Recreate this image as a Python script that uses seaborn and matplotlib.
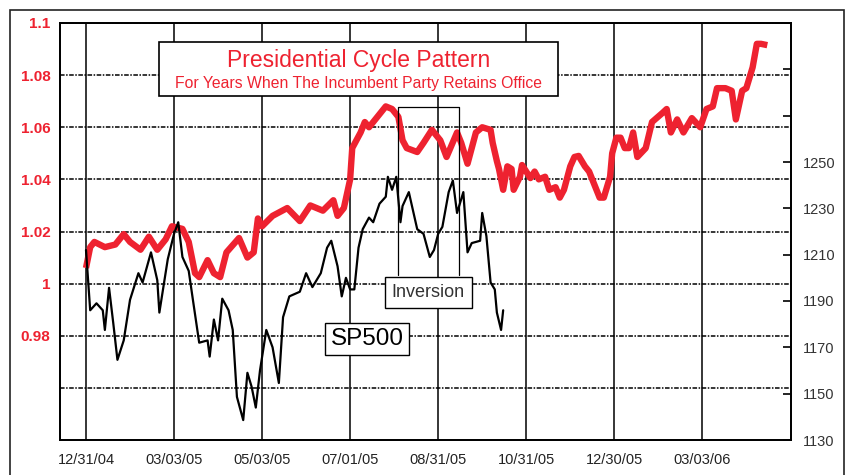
import numpy as np
import pandas as pd
import seaborn as sns
import matplotlib
matplotlib.use('Agg')
import matplotlib.pyplot as plt
from matplotlib.patches import Rectangle

# trading days since 12/31/04
red_days = [0, 2, 4, 9, 14, 18, 21, 26, 30, 34,
            38, 41, 46, 49, 52, 54, 58, 61, 64, 67,
            73, 77, 80, 82, 84, 89, 96, 102, 107, 113,
            118, 120, 123, 126, 127, 131, 133, 135, 139, 143,
            146, 149, 151, 153, 158, 161, 165, 169, 172, 177,
            179, 182, 186, 189, 193, 194, 196, 197, 199, 201,
            203, 204, 207, 208, 210, 212, 214, 216, 219, 221,
            224, 226, 228, 231, 233, 235, 238, 240, 243, 245,
            247, 250, 251, 253, 255, 257, 259, 261, 263, 267,
            270, 275, 277, 279, 282, 285, 289, 293, 296, 299,
            301, 305, 308, 310, 313, 315, 318, 320, 322, 325]
cycle_pattern = [1.006, 1.014, 1.016, 1.014, 1.015, 1.019, 1.016, 1.013, 1.018, 1.013,
                 1.017, 1.022, 1.021, 1.016, 1.004, 1.0025, 1.009, 1.004, 1.0025, 1.012,
                 1.0175, 1.010, 1.012, 1.025, 1.022, 1.026, 1.029, 1.024, 1.030, 1.028,
                 1.032, 1.026, 1.029, 1.040, 1.052, 1.058, 1.062, 1.060, 1.064, 1.068,
                 1.067, 1.064, 1.055, 1.052, 1.0505, 1.054, 1.059, 1.055, 1.0486, 1.058,
                 1.054, 1.046, 1.058, 1.060, 1.059, 1.054, 1.047, 1.044, 1.036, 1.045,
                 1.044, 1.036, 1.041, 1.0455, 1.043, 1.0405, 1.043, 1.040, 1.041, 1.036,
                 1.037, 1.033, 1.036, 1.045, 1.0486, 1.049, 1.045, 1.043, 1.037, 1.033,
                 1.033, 1.041, 1.050, 1.056, 1.056, 1.052, 1.052, 1.058, 1.0486, 1.052,
                 1.062, 1.0655, 1.067, 1.058, 1.063, 1.058, 1.0635, 1.060, 1.067, 1.068,
                 1.075, 1.075, 1.074, 1.063, 1.074, 1.075, 1.083, 1.092, 1.092, 1.0915]

sp_days = [0, 2, 5, 8, 9, 11, 13, 15, 18, 21,
           25, 27, 31, 34, 35, 39, 42, 44, 46, 49,
           51, 54, 58, 59, 61, 63, 65, 68, 70, 72,
           75, 77, 79, 81, 83, 86, 89, 92, 94, 97,
           102, 105, 108, 112, 115, 117, 120, 122, 124, 126,
           128, 130, 132, 135, 137, 140, 143, 144, 146, 148,
           150, 151, 154, 158, 161, 164, 166, 168, 170, 173,
           175, 177, 180, 182, 184, 188, 189, 191, 193, 195,
           196, 198, 199]
sp500 = [1212, 1186, 1189, 1186, 1177.5, 1195.7, 1180.5, 1164.6, 1173, 1190.5,
         1202, 1198, 1211, 1199, 1185, 1208, 1219, 1224, 1209, 1203,
         1190.5, 1172, 1173, 1166, 1182, 1173, 1191, 1186, 1177.5, 1148.6,
         1138.6, 1159, 1153, 1144, 1160, 1177.5, 1170, 1154.6, 1183, 1192,
         1194, 1202, 1196, 1202, 1213, 1216, 1205, 1192, 1200, 1195,
         1195, 1213, 1221, 1226, 1224, 1232, 1235, 1243.6, 1238, 1243.6,
         1224, 1231, 1237, 1221, 1219, 1209, 1212, 1219, 1222, 1237,
         1242, 1228, 1237, 1211, 1215, 1216, 1228, 1218, 1198, 1195,
         1185, 1177.5, 1186]

tick_days = [0, 42, 84, 126, 168, 210, 252, 294]
tick_labels = ['12/31/04', '03/03/05', '05/03/05', '07/01/05',
               '08/31/05', '10/31/05', '12/30/05', '03/03/06']
left_ticks = [0.96, 0.98, 1.0, 1.02, 1.04, 1.06, 1.08, 1.1]
left_labels = ['', '0.98', '1', '1.02', '1.04', '1.06', '1.08', '1.1']
right_ticks = [1130, 1150, 1170, 1190, 1210, 1230, 1250, 1270, 1290]
right_labels = ['1130', '1150', '1170', '1190', '1210', '1230', '1250', '', '']
inversion_start, inversion_end = 149, 178

RED = '#EE2230'

sns.set_theme(style='white')
plt.rcParams['font.family'] = ['Liberation Sans', 'DejaVu Sans']

fig = plt.figure(figsize=(8.46, 4.75), dpi=100)
fig.patch.set_facecolor('white')
ax = fig.add_axes([60 / 846, 35 / 475, 731 / 846, 417 / 475])
ax2 = ax.twinx()

red_df = pd.DataFrame({'day': red_days, 'pattern': cycle_pattern})
sp_df = pd.DataFrame({'day': sp_days, 'sp500': sp500})
sns.lineplot(data=red_df, x='day', y='pattern', ax=ax, color=RED, lw=4.6,
             estimator=None, solid_joinstyle='round', solid_capstyle='butt')
sns.lineplot(data=sp_df, x='day', y='sp500', ax=ax2, color='black', lw=1.6,
             estimator=None, solid_joinstyle='round')

ax.set_xlim(-12.4, 336.3)
ax.set_ylim(0.94, 1.1)
ax2.set_ylim(1130, 1310)
ax.set_xlabel('')
ax.set_ylabel('')
ax2.set_ylabel('')

ax.set_xticks(tick_days)
ax.set_xticklabels(tick_labels, fontsize=10.5, color='#222222')
ax.tick_params(axis='x', length=0, pad=9)
ax.set_yticks(left_ticks)
ax.set_yticklabels(left_labels, fontsize=11, color=RED, fontweight='bold')
ax.tick_params(axis='y', length=0, pad=7)

ax2.set_yticks(right_ticks)
ax2.set_yticklabels(right_labels, fontsize=10.5, color='#333333')
ax2.tick_params(axis='y', direction='in', length=6, width=1.2, color='black', pad=8.5)

ax.grid(axis='x', color='black', lw=1.1, ls='-')
ax.grid(axis='y', color='black', lw=1.1, ls=(0, (3, 1, 1, 1)))
ax.set_axisbelow(True)

for a in (ax, ax2):
    for sp in a.spines.values():
        sp.set_visible(True)
        sp.set_color('black')
        sp.set_linewidth(1.3)

# title box
ax2.add_patch(Rectangle((0.1354, 0.825), 0.5457, 0.129, transform=ax2.transAxes,
                        facecolor='white', edgecolor='black', lw=1.2, zorder=5))
ax2.text(0.408, 0.911, 'Presidential Cycle Pattern', transform=ax2.transAxes,
         ha='center', va='center', fontsize=16.5, color=RED, zorder=6)
ax2.text(0.408, 0.856, 'For Years When The Incumbent Party Retains Office',
         transform=ax2.transAxes, ha='center', va='center', fontsize=11.3,
         color=RED, zorder=6)

# inversion bracket
xt = ax2.get_xaxis_transform()
ax2.plot([inversion_start, inversion_start, inversion_end, inversion_end],
         [0.396, 0.799, 0.799, 0.396], transform=xt, color='black', lw=0.9, zorder=4)
ax2.text(0.504, 0.354, 'Inversion', transform=ax2.transAxes, ha='center', va='center',
         fontsize=13, color='#333333', zorder=6,
         bbox=dict(boxstyle='square,pad=0.38', fc='white', ec='black', lw=1))
ax2.text(0.42, 0.242, 'SP500', transform=ax2.transAxes, ha='center', va='center',
         fontsize=17.5, color='black', zorder=6,
         bbox=dict(boxstyle='square,pad=0.22', fc='white', ec='black', lw=1))

# outer frame
fig.add_artist(Rectangle((9.5 / 846, -0.05), 834 / 846, 1.05 - 10 / 475,
                         transform=fig.transFigure, fill=False, ec='#222222', lw=1.2))

fig.savefig('out.png', dpi=100)
